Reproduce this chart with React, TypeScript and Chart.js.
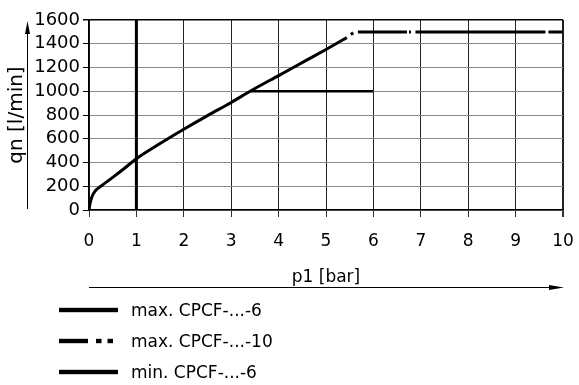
import React, { useEffect, useRef } from "react";
import { Chart, registerables } from "chart.js";

Chart.register(...registerables);

const maxCpcf6: { x: number; y: number }[] = [
  { x: 0, y: 0 }, { x: 0.02, y: 50 }, { x: 0.06, y: 110 }, { x: 0.13, y: 160 },
  { x: 0.25, y: 200 }, { x: 0.5, y: 275 }, { x: 0.75, y: 352 }, { x: 1, y: 432 },
  { x: 1.5, y: 560 }, { x: 2, y: 680 }, { x: 2.5, y: 795 }, { x: 3, y: 905 },
  { x: 3.4, y: 1000 }, { x: 4, y: 1132 }, { x: 4.62, y: 1268 }, { x: 5, y: 1352 },
  { x: 5.44, y: 1452 },
];
const maxCpcf10: { x: number; y: number }[] = [
  { x: 5.44, y: 1452 }, { x: 5.6, y: 1500 }, { x: 10, y: 1500 },
];
const minCpcf6: { x: number; y: number }[] = [
  { x: 3.4, y: 1000 }, { x: 6, y: 1000 },
];
const minPressure: { x: number; y: number }[] = [
  { x: 1, y: 0 }, { x: 1, y: 1600 },
];
const legendLabels = ["max. CPCF-...-6", "max. CPCF-...-10", "min. CPCF-...-6"];
const xTitle = "p1 [bar]";
const yTitle = "qn [l/min]";

const FONT = "'DejaVu Sans', sans-serif";

const decorPlugin = {
  id: "decor",
  afterDraw(chart: any) {
    const ctx = chart.ctx;
    const a = chart.chartArea;
    ctx.save();
    ctx.fillStyle = "#000";
    ctx.strokeStyle = "#000";
    // y arrow
    ctx.lineWidth = 1;
    ctx.beginPath();
    ctx.moveTo(27.5, a.bottom - 1);
    ctx.lineTo(27.5, 32);
    ctx.stroke();
    ctx.beginPath();
    ctx.moveTo(27.5, 21);
    ctx.lineTo(25, 34);
    ctx.lineTo(30, 34);
    ctx.closePath();
    ctx.fill();
    // x arrow
    const ay = 287.5;
    ctx.beginPath();
    ctx.moveTo(a.left, ay);
    ctx.lineTo(a.right - 12, ay);
    ctx.stroke();
    ctx.beginPath();
    ctx.moveTo(a.right + 1, ay);
    ctx.lineTo(a.right - 14, ay - 2.5);
    ctx.lineTo(a.right - 14, ay + 2.5);
    ctx.closePath();
    ctx.fill();
    // legend
    const rows = [310, 341, 372];
    rows.forEach((y, i) => {
      if (i === 1) {
        ctx.fillRect(59, y - 2.2, 29, 4.4);
        ctx.fillRect(96, y - 2.2, 5.5, 4.4);
        ctx.fillRect(107.5, y - 2.2, 5.5, 4.4);
      } else {
        ctx.fillRect(59, y - 2.2, 59, 4.4);
      }
      ctx.font = `17px ${FONT}`;
      ctx.textBaseline = "middle";
      ctx.textAlign = "left";
      ctx.fillText(legendLabels[i], 131, y + 2);
    });
    ctx.restore();
  },
};

export default function App() {
  const ref = useRef<HTMLCanvasElement | null>(null);
  useEffect(() => {
    if (!ref.current) return;
    Chart.defaults.font.family = FONT;
    Chart.defaults.font.size = 17;
    Chart.defaults.color = "#000";
    const chart = new Chart(ref.current, {
      type: "line",
      data: {
        datasets: [
          {
            label: legendLabels[0],
            data: maxCpcf6,
            borderColor: "#000",
            borderWidth: 3,
            pointRadius: 0,
            cubicInterpolationMode: "monotone",
          },
          {
            label: legendLabels[1],
            data: maxCpcf10,
            borderColor: "#000",
            borderWidth: 3,
            pointRadius: 0,
            borderDash: [3, 5, 49, 2, 2, 4.5, 130, 3, 300, 5],
            borderDashOffset: 498.5,
          },
          {
            label: legendLabels[2],
            data: minCpcf6,
            borderColor: "#000",
            borderWidth: 2.5,
            pointRadius: 0,
          },
          {
            label: "p1 min",
            data: minPressure,
            borderColor: "#000",
            borderWidth: 3,
            pointRadius: 0,
          },
        ],
      },
      options: {
        animation: false,
        responsive: false,
        maintainAspectRatio: false,
        layout: { padding: { left: 0, top: 20, right: 16, bottom: 0 } },
        plugins: { legend: { display: false }, tooltip: { enabled: false } },
        scales: {
          x: {
            type: "linear",
            min: 0,
            max: 10,
            ticks: {
              stepSize: 1,
              padding: 14,
              color: "#000",
              font: { size: 17 },
              autoSkip: false,
              maxRotation: 0,
              callback: (v: any) => String(v),
            },
            grid: {
              color: "#222",
              lineWidth: (c: any) => (c.tick && c.tick.value === 10 ? 2 : 1),
              tickLength: 7,
              tickColor: "#333",
            },
            border: { color: "#000", width: 1.5 },
            title: {
              display: true,
              text: xTitle,
              color: "#000",
              font: { size: 17 },
              padding: { top: 0, bottom: 97 },
            },
            afterFit: (s: any) => {
              s.height = 175;
              s.paddingRight = 0;
            },
          },
          y: {
            type: "linear",
            min: 0,
            max: 1600,
            ticks: {
              stepSize: 200,
              padding: 3,
              color: "#000",
              font: { size: 18 },
              autoSkip: false,
              callback: (v: any) => String(v),
            },
            grid: {
              color: (c: any) => (c.tick && c.tick.value === 1600 ? "#000" : "#8a8a8a"),
              lineWidth: (c: any) => (c.tick && c.tick.value === 1600 ? 1.5 : 1),
              tickLength: 6,
              tickColor: "#000",
            },
            border: { color: "#000", width: 1.5 },
            title: {
              display: true,
              text: yTitle,
              color: "#000",
              font: { size: 20 },
              padding: { top: 5, bottom: 0 },
            },
            afterFit: (s: any) => {
              s.width = 89;
            },
          },
        },
      },
      plugins: [decorPlugin],
    } as any);
    return () => chart.destroy();
  }, []);
  return (
    <div style={{ position: "absolute", left: 0, top: 0, width: 579, height: 385, background: "#fff" }}>
      <canvas ref={ref} width={579} height={385} style={{ display: "block", width: 579, height: 385 }} />
    </div>
  );
}
